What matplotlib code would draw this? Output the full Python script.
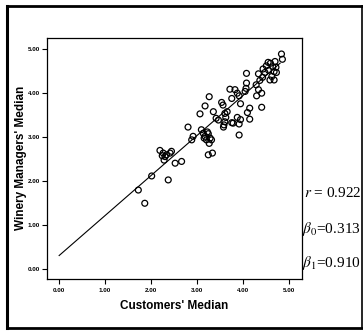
import numpy as np
import matplotlib
matplotlib.use("Agg")
import matplotlib.pyplot as plt
from matplotlib.lines import Line2D

plt.rcParams['font.family'] = ['Liberation Sans', 'DejaVu Sans']
plt.rcParams['mathtext.fontset'] = 'stix'

# customers' median vs winery managers' median
cust_median = [
    1.72, 1.86, 2.01, 2.37,
    2.19, 2.26, 2.30, 2.33, 2.41, 2.44, 2.28, 2.24, 2.52, 2.66,
    2.80, 2.91, 2.88,
    3.09, 3.13, 3.17, 3.24, 3.28, 3.20, 3.31, 3.26, 3.15, 3.22,
    3.24, 3.33,
    3.06, 3.17, 3.26, 3.35, 3.41, 3.46,
    3.53, 3.56, 3.65, 3.60, 3.62, 3.58, 3.57, 3.60,
    3.71, 3.82, 3.87, 3.91, 3.75, 3.94, 3.78, 3.87, 3.91, 3.94, 3.75, 3.91,
    4.04, 4.06, 4.07, 4.07, 4.09, 4.14, 4.14,
    4.28, 4.33, 4.40, 4.29, 4.40,
    4.33, 4.36, 4.42, 4.43, 4.47,
    4.54, 4.59, 4.62, 4.58, 4.67, 4.67, 4.71, 4.72,
    4.50, 4.55, 4.64, 4.69,
    4.83, 4.85,
]
mgr_median = [
    1.80, 1.50, 2.12, 2.03,
    2.70, 2.64, 2.56, 2.60, 2.64, 2.68, 2.48, 2.58, 2.41, 2.45,
    3.23, 3.02, 2.94,
    3.17, 3.09, 3.02, 3.08, 2.98, 2.94, 2.94, 2.86, 2.98, 3.12,
    2.60, 2.64,
    3.53, 3.71, 3.92, 3.58, 3.43, 3.39,
    3.79, 3.73, 3.58, 3.54, 3.45, 3.28, 3.23, 3.35,
    4.09, 4.08, 4.00, 3.94, 3.88, 3.76, 3.32, 3.45, 3.30, 3.40, 3.33, 3.05,
    4.04, 4.11, 4.23, 4.45, 3.56, 3.66, 3.41,
    4.19, 4.08, 4.00, 3.94, 3.68,
    4.44, 4.29, 4.36, 4.55, 4.47,
    4.70, 4.68, 4.38, 4.30, 4.49, 4.30, 4.59, 4.47,
    4.62, 4.52, 4.60, 4.72,
    4.89, 4.77,
]

r_value = 0.922
beta0 = 0.313
beta1 = 0.910
x_ticks = [0, 1, 2, 3, 4, 5]
y_ticks = [0, 1, 2, 3, 4, 5]

fig = plt.figure(figsize=(3.63, 3.31), dpi=100)
ax = fig.add_axes([0.1287, 0.1571, 0.7025, 0.729])

ax.scatter(cust_median, mgr_median, s=18, facecolors='none',
           edgecolors='black', linewidths=0.9, zorder=3)

fit_x = np.array([0.0, 4.8])
ax.plot(fit_x, beta0 + beta1 * fit_x, color='black', linewidth=0.8, zorder=2)

ax.set_xlim(-0.27, 5.27)
ax.set_ylim(-0.22, 5.26)
ax.set_xticks(x_ticks)
ax.set_yticks(y_ticks)
ax.set_xticklabels([f"{v:.2f}" for v in x_ticks], fontsize=4.5, fontweight='bold')
ax.set_yticklabels([f"{v:.2f}" for v in y_ticks], fontsize=4.5, fontweight='bold')
ax.tick_params(direction='out', length=3.5, width=0.8, pad=1.5)
ax.tick_params(axis='x', pad=3)
for sp in ax.spines.values():
    sp.set_linewidth(0.9)

ax.set_xlabel("Customers' Median", fontsize=8.5, fontweight='bold')
ax.set_ylabel("Winery Managers' Median", fontsize=8.5, fontweight='bold')
ax.xaxis.set_label_coords(0.5, -0.085)
ax.yaxis.set_label_coords(-0.078, 0.5)

# statistics to the right of the plot
txt_kw = dict(fontsize=11, family='Liberation Serif', va='center', ha='left')
fig.text(304 / 363, 1 - 193 / 331, r"$r$ = " + f"{r_value:.3f}", **txt_kw)
fig.text(302 / 363, 1 - 229 / 331, r"$\beta_0$=" + f"{beta0:.3f}", **txt_kw)
fig.text(302 / 363, 1 - 263 / 331, r"$\beta_1$=" + f"{beta1:.3f}", **txt_kw)

# outer frame of the scanned figure
W, H = 363.0, 331.0
x0, x1 = 6.5 / W, 361.5 / W
y0, y1 = 1 - 328 / H, 1 - 6 / H
for xs, ys, lw in [([x0, x0], [y0, y1], 2.2), ([x0, x1], [y1, y1], 2.0),
                   ([x0, x1], [y0, y0], 2.0), ([x1, x1], [y0, y1], 1.2)]:
    fig.add_artist(Line2D(xs, ys, transform=fig.transFigure, color='black', lw=lw))

fig.savefig("out.png", dpi=100)
